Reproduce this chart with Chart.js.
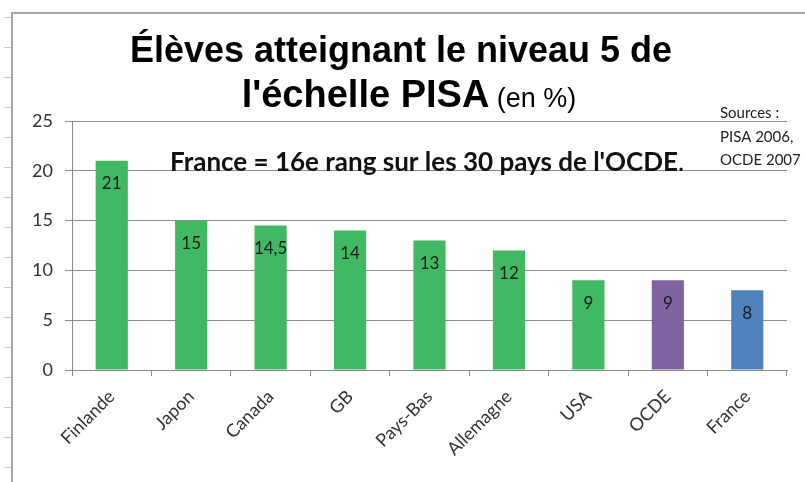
<!DOCTYPE html>
<html>
<head>
<meta charset="utf-8">
<script src="https://cdn.jsdelivr.net/npm/chart.js@4/dist/chart.umd.min.js"></script>
<style>
  html, body { margin: 0; padding: 0; background: #fff; }
  #wrap { position: relative; width: 805px; height: 482px; }
</style>
</head>
<body>
<div id="wrap"><canvas id="pisa"></canvas></div>
<script>
// categories and values (% d'eleves au niveau 5)
var pays = ["Finlande", "Japon", "Canada", "GB", "Pays-Bas", "Allemagne", "USA", "OCDE", "France"];
var niveau5 = [21, 15, 14.5, 14, 13, 12, 9, 9, 8];
var couleurs = ["#41b862", "#41b862", "#41b862", "#41b862", "#41b862", "#41b862", "#41b862", "#8064a2", "#4f81bd"];
var yTicks = [0, 5, 10, 15, 20, 25];

var titre1 = "Élèves atteignant le niveau 5 de";
var titre2 = "l'échelle PISA";
var titre2b = " (en %)";
var note = "France = 16e rang sur les 30 pays de l'OCDE";
var sources = ["Sources :", "PISA 2006,", "OCDE 2007"];

var FONT = "Lato, 'Open Sans', sans-serif";
var TITLE_FONT = "'Liberation Sans', Arial, sans-serif";

// frame lines left/top, like the sheet border around the chart
var cadre = {
  id: "cadre",
  beforeDraw: function(chart){
    var c = chart.ctx;
    c.save();
    c.fillStyle = "#fff";
    c.fillRect(0, 0, chart.width, chart.height);
    c.strokeStyle = "#a6a6a6";
    c.lineWidth = 2;
    c.beginPath();
    c.moveTo(12, chart.height);
    c.lineTo(12, 13);
    c.lineTo(chart.width, 13);
    c.stroke();
    c.lineWidth = 1;
    c.strokeStyle = "#c8c8c8";
    for (var y = 17; y < chart.height; y += 30) {
      c.beginPath();
      c.moveTo(4, y + 0.5);
      c.lineTo(11, y + 0.5);
      c.stroke();
    }
    c.restore();
  }
};

// titles and text boxes
var textes = {
  id: "textes",
  afterDraw: function(chart){
    var c = chart.ctx;
    c.save();
    c.fillStyle = "#000";
    c.textBaseline = "alphabetic";
    c.textAlign = "center";
    c.font = "bold 36px " + TITLE_FONT;
    c.fillText(titre1, 401, 62);

    c.textAlign = "left";
    c.font = "bold 38px " + TITLE_FONT;
    var w1 = c.measureText(titre2).width;
    c.font = "27px " + TITLE_FONT;
    var w2 = c.measureText(titre2b).width;
    var x0 = 409 - (w1 + w2) / 2;
    c.font = "bold 38px " + TITLE_FONT;
    c.fillText(titre2, x0, 107);
    c.font = "27px " + TITLE_FONT;
    c.fillText(titre2b, x0 + w1, 107);

    c.fillStyle = "#111";
    c.font = "bold 26px " + FONT;
    c.fillText(note, 170, 171);
    var wn = c.measureText(note).width;
    c.font = "26px " + FONT;
    c.fillText(".", 170 + wn, 171);

    c.fillStyle = "#222";
    c.font = "15px " + FONT;
    c.fillText(sources[0], 720, 118);
    c.fillText(sources[1], 720, 142);
    c.fillText(sources[2], 720, 165);
    c.restore();
  }
};

// value written inside the top of each bar
var valeurs = {
  id: "valeurs",
  afterDatasetsDraw: function(chart){
    var c = chart.ctx;
    var meta = chart.getDatasetMeta(0);
    c.save();
    c.fillStyle = "#1a1a1a";
    c.font = "17px " + FONT;
    c.textAlign = "center";
    c.textBaseline = "middle";
    meta.data.forEach(function(bar, i){
      var v = String(niveau5[i]).replace(".", ",");
      c.fillText(v, bar.x, bar.y + 23);
    });
    c.restore();
  }
};

var ctx = document.getElementById("pisa").getContext("2d");
new Chart(ctx, {
  type: "bar",
  data: {
    labels: pays,
    datasets: [{
      data: niveau5,
      backgroundColor: couleurs,
      borderWidth: 0,
      barPercentage: 0.405,
      categoryPercentage: 1
    }]
  },
  options: {
    responsive: true,
    maintainAspectRatio: false,
    animation: false,
    layout: { padding: { top: 121, right: 18, left: 0, bottom: 0 } },
    plugins: {
      legend: { display: false },
      tooltip: { enabled: false }
    },
    scales: {
      x: {
        grid: {
          offset: true,
          drawOnChartArea: false,
          drawTicks: true,
          tickLength: 6,
          color: "#8c8c8c"
        },
        border: { color: "#8c8c8c", width: 1 },
        ticks: {
          minRotation: 45,
          maxRotation: 45,
          color: "#333",
          padding: 10,
          font: { family: FONT, size: 18 }
        },
        afterFit: function(s){ s.height = 112; }
      },
      y: {
        min: 0,
        max: 25,
        afterBuildTicks: function(s){ s.ticks = yTicks.map(function(v){ return { value: v }; }); },
        grid: { color: "#8c8c8c", tickLength: 7 },
        border: { color: "#8c8c8c", width: 1 },
        ticks: {
          color: "#333",
          padding: 12,
          font: { family: FONT, size: 18 }
        },
        afterFit: function(s){ s.width = 72; }
      }
    }
  },
  plugins: [cadre, valeurs, textes]
});
</script>
</body>
</html>
